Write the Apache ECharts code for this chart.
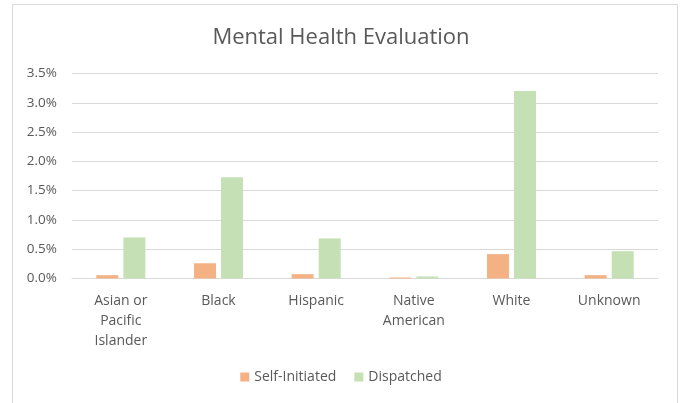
<!DOCTYPE html>
<html><head><meta charset="utf-8">
<script src="https://cdn.jsdelivr.net/npm/echarts@6/dist/echarts.min.js"></script>
<style>html,body{margin:0;padding:0;background:#fff}#c{width:682px;height:403px}</style>
</head><body><div id="c"></div>
<script>
const categories = ["Asian or\nPacific\nIslander", "Black", "Hispanic", "Native\nAmerican", "White", "Unknown"];
const selfInitiated = [0.057, 0.26, 0.074, 0.017, 0.416, 0.057];
const dispatched = [0.70, 1.73, 0.684, 0.034, 3.20, 0.467];
const yTicks = { min: 0, max: 3.5, interval: 0.5 };

const font = "'Open Sans', 'Noto Sans', sans-serif";
const chart = echarts.init(document.getElementById('c'), null, { renderer: 'canvas' });
chart.setOption({
  animation: false,
  backgroundColor: '#fff',
  graphic: [{ type: 'rect', shape: { x: 12.5, y: 4.5, width: 665, height: 420 }, style: { fill: 'none', stroke: '#d9d9d9', lineWidth: 1 }, silent: true }],
  title: { text: 'Mental Health Evaluation', left: 'center', top: 22, textStyle: { fontFamily: font, fontSize: 22, fontWeight: 'normal', color: '#595959' } },
  legend: { bottom: 14, left: 'center', itemWidth: 9, itemHeight: 9, itemGap: 18, icon: 'rect', textStyle: { fontFamily: font, fontSize: 14, color: '#595959' }, data: ['Self-Initiated', 'Dispatched'] },
  grid: { left: 72, right: 24, top: 73.5, bottom: 124.5, containLabel: false },
  xAxis: { type: 'category', data: categories, axisLine: { lineStyle: { color: '#d9d9d9' } }, axisTick: { show: false },
    axisLabel: { fontFamily: font, fontSize: 14, color: '#595959', lineHeight: 20, margin: 13, interval: 0 } },
  yAxis: { type: 'value', min: yTicks.min, max: yTicks.max, interval: yTicks.interval,
    axisLabel: { formatter: v => v.toFixed(1) + '%', fontFamily: font, fontSize: 13.5, color: '#595959', margin: 15 },
    splitLine: { lineStyle: { color: '#d9d9d9' } }, axisLine: { show: false }, axisTick: { show: false } },
  series: [
    { name: 'Self-Initiated', type: 'bar', data: selfInitiated, barWidth: 22, barGap: '23%', itemStyle: { color: '#F4B183' } },
    { name: 'Dispatched', type: 'bar', data: dispatched, barWidth: 22, itemStyle: { color: '#C5E0B4' } }
  ]
});
</script></body></html>
